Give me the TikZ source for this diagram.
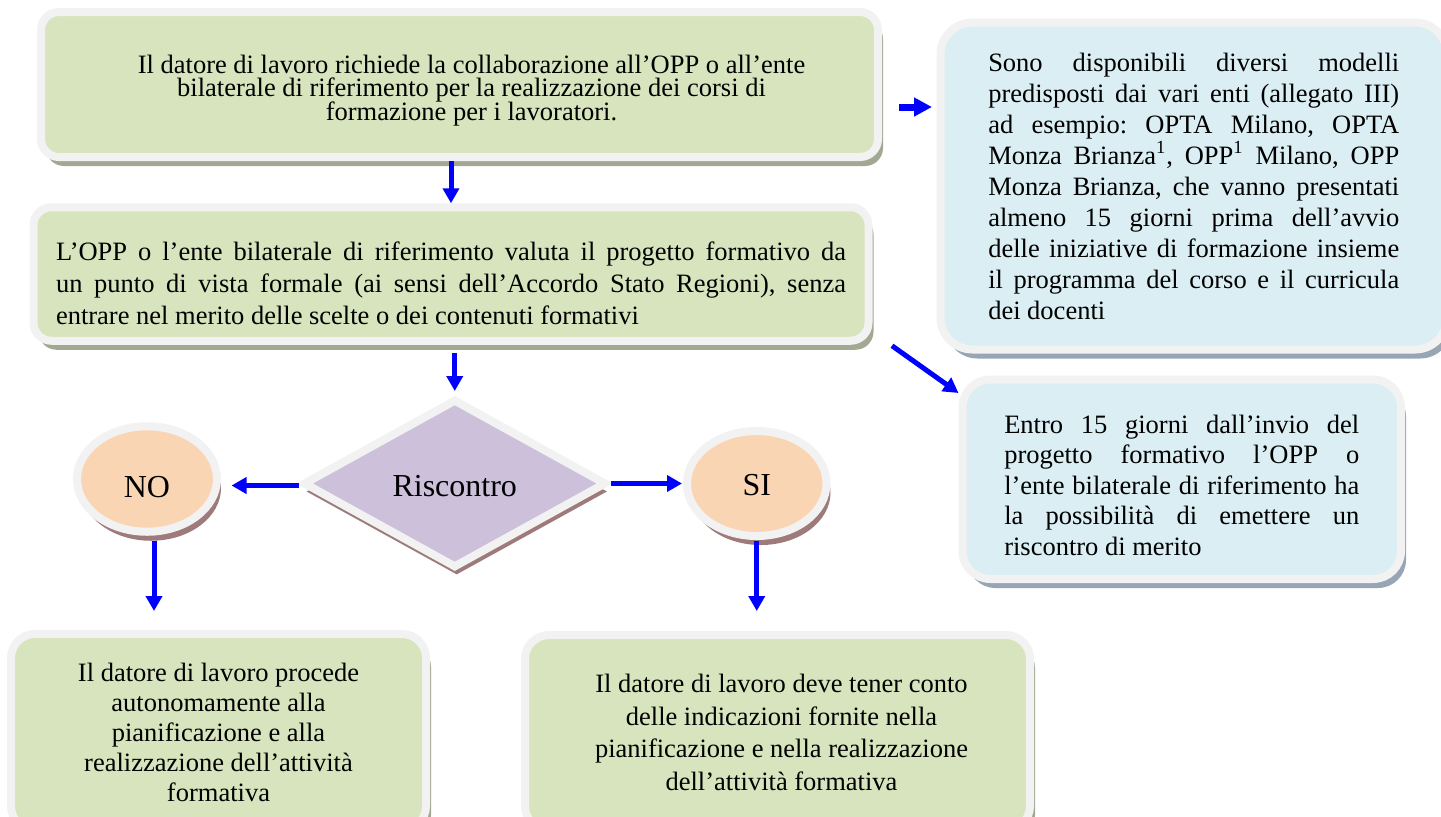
\documentclass[tikz,border=0pt]{standalone}
\usepackage{fontspec}
\setmainfont{Liberation Serif}
\usepackage{tikz}
\usetikzlibrary{shapes.geometric, arrows.meta, shadows}

\definecolor{boxgreen}{HTML}{D7E4BD}
\definecolor{boxblue}{HTML}{DAEEF3}
\definecolor{boxlilac}{HTML}{CCC0DA}
\definecolor{boxpeach}{HTML}{FAD5B4}
\definecolor{rimgray}{HTML}{F2F2F2}
\definecolor{shadegreen}{HTML}{A3A893}
\definecolor{shadeblue}{HTML}{97A5B5}
\definecolor{shadebrown}{HTML}{9E7A7A}
\definecolor{arrowblue}{HTML}{0000FF}

\newcommand{\tightlines}{\lineskiplimit -5pt\relax}
\frenchspacing

\begin{document}
\begin{tikzpicture}[x=0.5pt, y=-0.5pt, >=Triangle]
      \tikzstyle{rim} = [draw=rimgray, line width=4pt, inner sep=0pt]
      \tikzstyle{greenbox} = [rim, rectangle, fill=boxgreen, drop shadow={shadow xshift=2.5pt, shadow yshift=-4.5pt, fill=shadegreen, opacity=1}]
      \tikzstyle{bluebox} = [rim, rectangle, fill=boxblue, drop shadow={shadow xshift=2.5pt, shadow yshift=-4.5pt, fill=shadeblue, opacity=1}]
      \tikzstyle{choice} = [rim, ellipse, fill=boxpeach, font=\fontsize{16}{19}\selectfont, drop shadow={shadow xshift=2pt, shadow yshift=-4.5pt, fill=shadebrown, opacity=1}]
      \tikzstyle{decision} = [rim, diamond, aspect=1.8, fill=boxlilac, font=\fontsize{16}{19}\selectfont, drop shadow={shadow xshift=1pt, shadow yshift=-4pt, fill=shadebrown, opacity=1}]
      \tikzstyle{arrow} = [draw=arrowblue, line width=2.5pt, -{Triangle[length=7.5pt, width=8pt]}]

      \path [use as bounding box, fill=white] (0,0) rectangle (1441,816);

      \node (request) [greenbox, rounded corners=9pt, minimum width=418.5pt, minimum height=72.5pt, align=center,
        font=\fontsize{13.25}{11.75}\selectfont\tightlines] at (459.5,84.5)
        {\hspace*{12pt}\rule{0pt}{15pt}Il datore di lavoro richiede la collaborazione all’OPP o all’ente\\
         \hspace*{12pt}bilaterale di riferimento per la realizzazione dei corsi di\\
         \hspace*{12pt}formazione per i lavoratori.};
      \node (assess) [greenbox, rounded corners=9pt, minimum width=417.5pt, minimum height=66.75pt, text width=395pt, align=justify,
        font=\fontsize{13.25}{16}\selectfont] at (451,274)
        {\rule{0pt}{19pt}L’OPP o l’ente bilaterale di riferimento valuta il progetto formativo da\linebreak
         un punto di vista formale (ai sensi dell’Accordo Stato Regioni), senza\linebreak
         entrare nel merito delle scelte o dei contenuti formativi};

      \node (models) [bluebox, rounded corners=16pt, minimum width=253.25pt, minimum height=163.5pt, text width=205.5pt, align=justify,
        font=\fontsize{13.25}{15.5}\selectfont] at (1193.75,186)
        {Sono disponibili diversi modelli\linebreak
         predisposti dai vari enti (allegato III)\linebreak
         ad esempio: OPTA Milano, OPTA\linebreak
         Monza Brianza\textsuperscript{1}, OPP\textsuperscript{1} Milano, OPP\linebreak
         Monza Brianza, che vanno presentati\linebreak
         almeno 15 giorni prima dell’avvio\linebreak
         delle iniziative di formazione insieme\linebreak
         il programma del corso e il curricula\linebreak
         dei docenti};
      \node (deadline) [bluebox, rounded corners=14pt, minimum width=219.25pt, minimum height=99.75pt, text width=177.5pt, align=justify,
        font=\fontsize{13.25}{15.25}\selectfont] at (1181.75,479.25)
        {\rule{0pt}{15pt}Entro 15 giorni dall’invio del\linebreak
         progetto formativo l’OPP o\linebreak
         l’ente bilaterale di riferimento ha\linebreak
         la possibilità di emettere un\linebreak
         riscontro di merito};

      \node (check) [decision, minimum width=151.75pt, minimum height=84.5pt, text height=13.5pt] at (454.75,483.5) {Riscontro};
      \node (no) [choice, minimum width=70pt, minimum height=52.75pt, text height=18.5pt] at (147,479) {NO};
      \node (si) [choice, minimum width=69.75pt, minimum height=52.5pt, text height=12.5pt] at (756.75,483.5) {SI};

      \node (autonomous) [greenbox, rounded corners=12pt, minimum width=207.5pt, minimum height=98pt, align=center,
        font=\fontsize{13.25}{15}\selectfont] at (218.5,732)
        {Il datore di lavoro procede\\
         autonomamente alla\\
         pianificazione e alla\\
         realizzazione dell’attività\\
         formativa};
      \node (guided) [greenbox, rounded corners=12pt, minimum width=252.5pt, minimum height=97.5pt, align=center,
        font=\fontsize{13.25}{16.25}\selectfont] at (777.5,732.5)
        {\hspace*{4pt}Il datore di lavoro deve tener conto\\
         \hspace*{4pt}delle indicazioni fornite nella\\
         \hspace*{4pt}pianificazione e nella realizzazione\\
         \hspace*{4pt}dell’attività formativa};

      \draw [arrow, line width=3.5pt, -{Triangle[length=9pt, width=9pt]}, shorten <=8.5pt, shorten >=2.25pt]
        ([yshift=-11.25pt]request.east) -- ([yshift=-11.25pt]request.east -| models.west);
      \draw [arrow] (request.south -| assess.north) -- (assess.north);
      \draw [arrow, shorten <=4pt, shorten >=2pt] (assess.south -| check.north) -- (check.north);
      \draw [arrow] ([xshift=9.75pt, yshift=-0.5pt]assess.south east) -- ([yshift=-8.75pt]deadline.north west);

      \draw [arrow, shorten >=5.25pt] ([yshift=-1pt]check.west) -- ([yshift=-1pt]check.west -| no.east);
      \draw [arrow, shorten >=0.5pt] (check.east) -- (check.east -| si.west);

      \draw [arrow, shorten <=2.5pt, shorten >=9.5pt] ([xshift=3.5pt]no.south) -- ([xshift=3.5pt]no.south |- autonomous.north);
      \draw [arrow, shorten <=0.5pt, shorten >=10pt] (si.south) -- (si.south |- guided.north);

    \end{tikzpicture}
\end{document}
